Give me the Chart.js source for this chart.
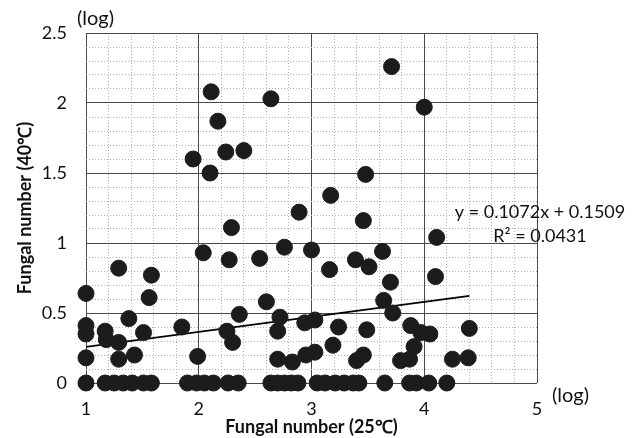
<!DOCTYPE html>
<html>
<head>
<meta charset="utf-8">
<script src="https://cdn.jsdelivr.net/npm/chart.js@4"></script>
<style>
  html, body { margin: 0; padding: 0; background: #fff; }
</style>
</head>
<body>
<canvas id="myChart" width="637" height="438"></canvas>
<script>
// log fungal counts per sample: 25°C (x) vs 40°C (y)
const fungal25 = [
  1.00, 1.00, 1.00, 1.00, 1.17, 1.18, 1.29, 1.29, 1.29, 1.38, 1.43, 1.51, 1.56, 1.58,
  1.85, 1.95, 1.99, 2.04, 2.10, 2.11, 2.17, 2.24, 2.25, 2.27, 2.29, 2.30, 2.36, 2.40,
  2.54, 2.60, 2.64, 2.70, 2.70, 2.72, 2.76, 2.83, 2.89, 2.94, 2.95, 3.00, 3.03, 3.03,
  3.16, 3.17, 3.19, 3.24, 3.39, 3.40, 3.46, 3.46, 3.48, 3.49, 3.51, 3.63, 3.64, 3.70,
  3.71, 3.72, 3.79, 3.87, 3.88, 3.91, 3.97, 4.00, 4.05, 4.10, 4.11, 4.25, 4.39, 4.40,
  1.00, 1.17, 1.25, 1.33, 1.41, 1.51, 1.58, 1.90, 1.98, 2.05, 2.13, 2.26, 2.35, 2.64,
  2.70, 2.76, 2.82, 2.88, 3.05, 3.12, 3.21, 3.29, 3.37, 3.42, 3.65, 3.87, 3.93, 4.04, 4.20
];
const fungal40 = [
  0.64, 0.41, 0.35, 0.18, 0.37, 0.31, 0.29, 0.82, 0.17, 0.46, 0.20, 0.36, 0.61, 0.77,
  0.40, 1.60, 0.19, 0.93, 1.50, 2.08, 1.87, 1.65, 0.37, 0.88, 1.11, 0.29, 0.49, 1.66,
  0.89, 0.58, 2.03, 0.37, 0.17, 0.47, 0.97, 0.15, 1.22, 0.43, 0.20, 0.95, 0.45, 0.22,
  0.81, 1.34, 0.27, 0.40, 0.88, 0.16, 1.16, 0.20, 1.49, 0.38, 0.83, 0.94, 0.59, 0.72,
  2.26, 0.50, 0.16, 0.17, 0.41, 0.26, 0.36, 1.97, 0.35, 0.76, 1.04, 0.17, 0.18, 0.39,
  0, 0, 0, 0, 0, 0, 0, 0, 0, 0, 0, 0, 0, 0,
  0, 0, 0, 0, 0, 0, 0, 0, 0, 0, 0, 0, 0, 0, 0
];
const slope = 0.1072;
const intercept = 0.1509;
const rSquared = 0.0431;
const xLabelTicks = [1, 2, 3, 4, 5];
const yLabelTicks = [0, 0.5, 1, 1.5, 2, 2.5];

const points = fungal25.map((x, i) => ({ x: x, y: fungal40[i] }));
const xMin = Math.min(...fungal25);
const xMax = Math.max(...fungal25);
const trend = [
  { x: xMin, y: slope * xMin + intercept },
  { x: xMax, y: slope * xMax + intercept }
];

const isMajor = (v, list) => list.some(t => Math.abs(t - v) < 1e-6);
const gridColor = list => c => isMajor(c.tick.value, list) ? '#4a4a4a' : '#b0b0b0';
const gridDash = list => c => (c.tick && isMajor(c.tick.value, list)) ? [] : [1, 2];

const textPlugin = {
  id: 'textPlugin',
  afterDraw(chart) {
    const ctx = chart.ctx;
    ctx.save();
    ctx.fillStyle = '#111';
    ctx.textBaseline = 'middle';
    ctx.font = '20px Lato, sans-serif';
    ctx.textAlign = 'left';
    ctx.fillText('(log)', 77, 19);
    ctx.fillText('(log)', 552, 396);
    ctx.font = '18px Lato, sans-serif';
    ctx.textAlign = 'center';
    ctx.fillText('y = ' + slope + 'x + ' + intercept, 540, 212);
    ctx.fillText('R\u00B2 = ' + rSquared, 540, 236);
    ctx.restore();
  }
};

const ctx = document.getElementById('myChart');

new Chart(ctx, {
  type: 'scatter',
  data: {
    datasets: [
      {
        label: 'Samples',
        data: points,
        backgroundColor: '#1c1c1c',
        borderColor: '#1c1c1c',
        pointRadius: 8,
        pointHoverRadius: 8,
        clip: false
      },
      {
        type: 'line',
        label: 'Linear trend',
        data: trend,
        borderColor: '#000',
        borderWidth: 1.6,
        pointRadius: 0,
        fill: false
      }
    ]
  },
  plugins: [textPlugin],
  options: {
    responsive: false,
    animation: false,
    layout: { padding: { top: 33, right: 100, left: 0, bottom: 0 } },
    plugins: {
      legend: { display: false },
      tooltip: { enabled: false }
    },
    scales: {
      x: {
        type: 'linear',
        min: 1,
        max: 5,
        afterFit: s => { s.height = 55; },
        ticks: {
          stepSize: 0.2,
          autoSkip: false,
          maxRotation: 0,
          padding: 15,
          color: '#111',
          font: { family: 'Lato, sans-serif', size: 18 },
          callback: v => isMajor(v, xLabelTicks) ? String(Math.round(v)) : ''
        },
        grid: {
          drawTicks: false,
          color: gridColor(xLabelTicks),
          lineWidth: 1
        },
        border: { display: false, dash: gridDash(xLabelTicks) },
        title: {
          display: true,
          text: 'Fungal number (25\u2103)',
          color: '#111',
          font: { family: 'Lato, sans-serif', size: 18, weight: 'bold' },
          padding: { top: 0, bottom: 0 }
        }
      },
      y: {
        min: 0,
        max: 2.5,
        afterFit: s => { s.width = 86; },
        ticks: {
          stepSize: 0.1,
          autoSkip: false,
          padding: 19,
          color: '#111',
          font: { family: 'Lato, sans-serif', size: 18 },
          callback: v => isMajor(v, yLabelTicks) ? String(Math.round(v * 10) / 10) : ''
        },
        grid: {
          drawTicks: false,
          color: gridColor(yLabelTicks),
          lineWidth: 1
        },
        border: { display: false, dash: gridDash(yLabelTicks) },
        title: {
          display: true,
          text: 'Fungal number (40\u2103)',
          color: '#111',
          font: { family: 'Lato, sans-serif', size: 18, weight: 'bold' },
          padding: { top: 14, bottom: 0 }
        }
      }
    }
  }
});
</script>
</body>
</html>
